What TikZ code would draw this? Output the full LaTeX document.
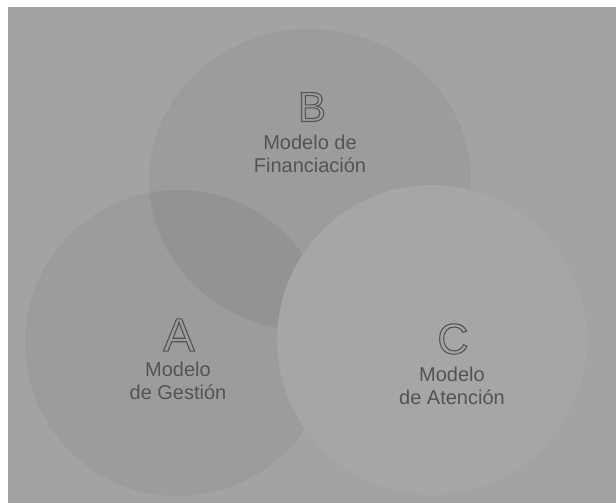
\documentclass[tikz,border=0pt]{standalone}
\usepackage{fontspec}
\setmainfont{Liberation Sans}
\definecolor{fondo}{gray}{0.64}
\definecolor{circAB}{gray}{0.61}
\definecolor{cruce}{gray}{0.575}
\definecolor{circC}{gray}{0.652}
\definecolor{tinta}{gray}{0.33}
\newcommand{\hueca}[1]{\special{pdf:literal direct 1 Tr 1.1 w}#1\special{pdf:literal direct 0 Tr}}
\tikzset{
  letra/.style={text=tinta, inner sep=0pt},
  modelo/.style={text=tinta, align=center, inner sep=0pt,
                 font=\fontsize{20pt}{23pt}\selectfont}}

\begin{document}
\begin{tikzpicture}[x=1pt,y=-1pt]
\useasboundingbox (0,0) rectangle (616,503);
\fill[white] (0,0) rectangle (616,503);
\fill[fondo] (8,7) rectangle (616,503);
\fill[circAB] (178,343) circle (153);
\fill[circAB] (310,180) ellipse [x radius=161, y radius=151];
\begin{scope}
\clip (178,343) circle (153);
\fill[cruce] (310,180) ellipse [x radius=161, y radius=151];
\end{scope}
\fill[circC] (432,340) circle (155);

\node (letB) at (312,107) [letra, font=\fontsize{42pt}{42pt}\selectfont] {\hueca{B}};
\node (finan) at (310,154) [modelo] {Modelo de\\Financiación};
\node (letA) at (179,335) [letra, font=\fontsize{47pt}{47pt}\selectfont] {\hueca{A}};
\node (gest) at (178,381) [modelo] {Modelo\\de Gestión};
\node (letC) at (453,339) [letra, font=\fontsize{43pt}{43pt}\selectfont] {\hueca{C}};
\node (atenc) at (452,386) [modelo] {Modelo\\de Atención};
\end{tikzpicture}
\end{document}
